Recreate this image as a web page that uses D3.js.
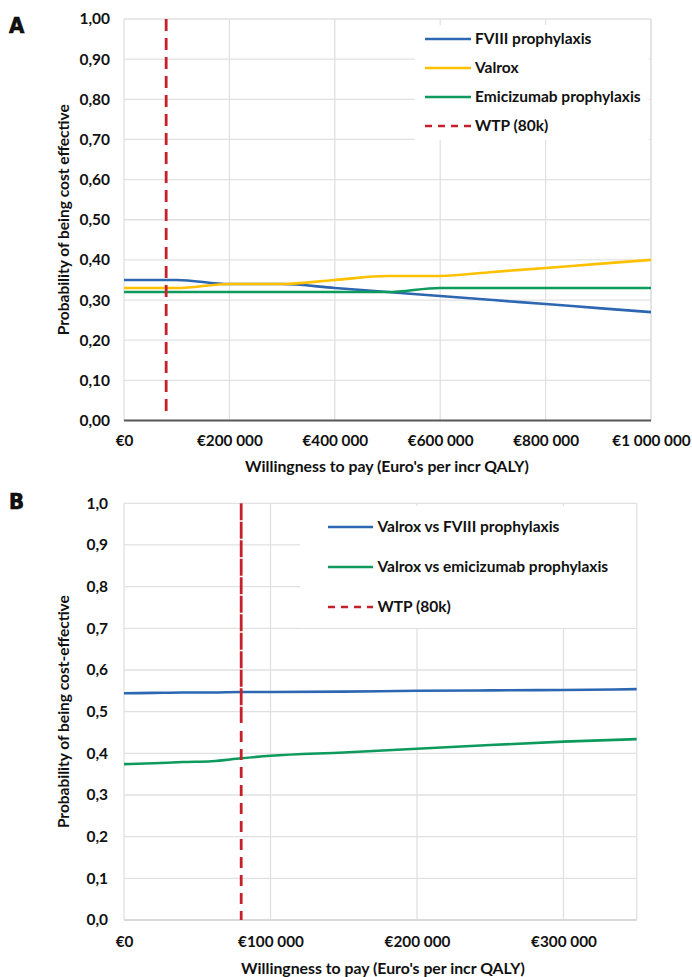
<!DOCTYPE html>
<html><head><meta charset="utf-8">
<script src="https://cdn.jsdelivr.net/npm/d3@7"></script>
<style>
html,body{margin:0;padding:0;background:#fff;}
svg{display:block;}
text{font-family:"Lato","Noto Sans",sans-serif;font-weight:700;fill:#111;}
</style></head>
<body><svg id="c" width="692" height="977"></svg>
<script>
// ---------- DATA ----------
// Panel A: cost-effectiveness acceptability curves
const wtpA = [0, 100000, 200000, 300000, 400000, 500000, 600000, 700000, 800000, 900000, 1000000];
const fviiiProphylaxis = [0.35, 0.35, 0.34, 0.34, 0.33, 0.32, 0.31, 0.30, 0.29, 0.28, 0.27];
const valrox = [0.33, 0.33, 0.34, 0.34, 0.35, 0.36, 0.36, 0.37, 0.38, 0.39, 0.40];
const emicizumabProphylaxis = [0.32, 0.32, 0.32, 0.32, 0.32, 0.32, 0.33, 0.33, 0.33, 0.33, 0.33];
const xTicksA = [0, 200000, 400000, 600000, 800000, 1000000];
const yTicksA = [0, 0.1, 0.2, 0.3, 0.4, 0.5, 0.6, 0.7, 0.8, 0.9, 1.0];
const legendA = ["FVIII prophylaxis", "Valrox", "Emicizumab prophylaxis", "WTP (80k)"];

// Panel B: pairwise comparisons
const wtpB = [0, 20000, 40000, 60000, 80000, 100000, 150000, 200000, 250000, 300000, 350000];
const valroxVsFviii = [0.544, 0.545, 0.546, 0.546, 0.547, 0.547, 0.548, 0.550, 0.551, 0.552, 0.554];
const valroxVsEmicizumab = [0.374, 0.376, 0.379, 0.381, 0.388, 0.394, 0.402, 0.411, 0.420, 0.428, 0.434];
const xTicksB = [0, 100000, 200000, 300000];
const yTicksB = [0, 0.1, 0.2, 0.3, 0.4, 0.5, 0.6, 0.7, 0.8, 0.9, 1.0];
const legendB = ["Valrox vs FVIII prophylaxis", "Valrox vs emicizumab prophylaxis", "WTP (80k)"];

const wtpThreshold = 80000;

// ---------- STYLE ----------
const BLUE = "#2e67b1", YELLOW = "#ffc000", GREEN = "#0c9b5c", RED = "#c6202a", GRID = "#e1e1e1";

const loc = d3.formatLocale({decimal: ",", thousands: " ", grouping: [3], currency: ["€", ""]});
const fmtEuro = loc.format("$,.0f");
const svg = d3.select("#c");

function panel(cfg) {
  const x = d3.scaleLinear().domain(cfg.xDomain).range([cfg.left, cfg.right]);
  const y = d3.scaleLinear().domain([0, 1]).range([cfg.bottom, cfg.top]);
  const g = svg.append("g");

  // gridlines
  g.append("g").selectAll("line").data(cfg.yTicks).join("line")
    .attr("x1", cfg.left).attr("x2", cfg.right)
    .attr("y1", d => y(d)).attr("y2", d => y(d))
    .attr("stroke", GRID).attr("stroke-width", 1.3);
  const vgrid = cfg.xTicks.concat([cfg.xDomain[1]]);
  g.append("g").selectAll("line").data(vgrid).join("line")
    .attr("x1", d => x(d)).attr("x2", d => x(d))
    .attr("y1", cfg.top).attr("y2", cfg.bottom)
    .attr("stroke", GRID).attr("stroke-width", 1.3);

  // bottom axis line
  g.append("line").attr("x1", cfg.left).attr("x2", cfg.right)
    .attr("y1", cfg.bottom).attr("y2", cfg.bottom)
    .attr("stroke", cfg.axisColor).attr("stroke-width", cfg.axisWidth);

  // y tick labels
  const yAxis = d3.axisLeft(y).tickValues(cfg.yTicks).tickSize(0).tickPadding(0)
    .tickFormat(d => d3.format(cfg.yFmt)(d).replace(".", ","));
  const ya = g.append("g").attr("transform", `translate(${cfg.yLabelX},0)`).call(yAxis);
  ya.select(".domain").remove();
  ya.selectAll("text").attr("font-size", 15.5).attr("fill", "#111")
    .style("font-family", "Lato, 'Noto Sans', sans-serif").style("font-weight", 700);

  // x tick labels
  const xAxis = d3.axisBottom(x).tickValues(cfg.xTicks).tickSize(0).tickPadding(0).tickFormat(fmtEuro);
  const xa = g.append("g").attr("transform", `translate(0,${cfg.xLabelY})`).call(xAxis);
  xa.select(".domain").remove();
  xa.selectAll("text").attr("font-size", 15.3).attr("fill", "#111").attr("dy", "0.35em")
    .style("font-family", "Lato, 'Noto Sans', sans-serif").style("font-weight", 700);

  // axis titles
  g.append("text").attr("x", cfg.xTitleX).attr("y", cfg.xTitleY)
    .attr("text-anchor", "middle").attr("font-size", 15.8).text("Willingness to pay (Euro's per incr QALY)");
  g.append("text").attr("transform", `translate(${cfg.yTitleX},${(cfg.top + cfg.bottom) / 2}) rotate(-90)`)
    .attr("text-anchor", "middle").attr("font-size", 15.5).text(cfg.yTitle);

  // panel letter
  g.append("text").attr("x", 9).attr("y", cfg.letterY).attr("font-size", 22)
    .style("font-family", "'Liberation Sans Narrow','DejaVu Sans Condensed',sans-serif")
    .style("font-weight", 700).attr("fill", "#000").attr("stroke", "#000").attr("stroke-width", 0.6)
    .text(cfg.letter);

  // legend box
  g.append("rect").attr("x", cfg.leg.x0).attr("y", cfg.leg.y0)
    .attr("width", cfg.leg.x1 - cfg.leg.x0).attr("height", cfg.leg.y1 - cfg.leg.y0).attr("fill", "#fff");

  // series
  const line = d3.line().x(d => x(d[0])).y(d => y(d[1])).curve(d3.curveMonotoneX);
  cfg.series.forEach(s => {
    g.append("path").datum(cfg.xs.map((v, i) => [v, s.values[i]]))
      .attr("d", line).attr("fill", "none").attr("stroke", s.color).attr("stroke-width", 2.6);
  });

  // WTP line
  cfg.wtpSegments.forEach(seg => {
    g.append("line").attr("x1", x(wtpThreshold)).attr("x2", x(wtpThreshold))
      .attr("y1", seg.y1).attr("y2", seg.y2)
      .attr("stroke", RED).attr("stroke-width", 2.8).attr("stroke-dasharray", seg.dash);
  });

  // legend entries
  const items = cfg.series.map(s => ({name: s.name, color: s.color, dash: null}))
    .concat([{name: cfg.wtpName, color: RED, dash: "7,6"}]);
  items.forEach((it, i) => {
    const yy = cfg.leg.firstY + i * cfg.leg.step;
    g.append("line").attr("x1", cfg.leg.lx0).attr("x2", cfg.leg.lx1).attr("y1", yy).attr("y2", yy)
      .attr("stroke", it.color).attr("stroke-width", 2.6).attr("stroke-dasharray", it.dash);
    g.append("text").attr("x", cfg.leg.tx).attr("y", yy).attr("dy", "0.35em")
      .attr("font-size", 15.5).text(it.name);
  });
}

panel({
  letter: "A", letterY: 33,
  left: 124, right: 651, top: 19, bottom: 420.5,
  xDomain: [0, 1000000], xTicks: xTicksA, yTicks: yTicksA, yFmt: ".2f",
  xs: wtpA,
  series: [
    {name: legendA[0], values: fviiiProphylaxis, color: BLUE},
    {name: legendA[1], values: valrox, color: YELLOW},
    {name: legendA[2], values: emicizumabProphylaxis, color: GREEN}
  ],
  wtpName: legendA[3],
  wtpSegments: [{y1: 19, y2: 414, dash: "12,7"}],
  yLabelX: 110, xLabelY: 441, xTitleX: 387, xTitleY: 472, yTitleX: 69,
  yTitle: "Probability of being cost effective",
  axisColor: "#595959", axisWidth: 2.2,
  leg: {x0: 415, x1: 649, y0: 25, y1: 140, lx0: 425, lx1: 471, tx: 475, firstY: 39, step: 29}
});

panel({
  letter: "B", letterY: 509,
  left: 124, right: 636.7, top: 503.3, bottom: 920,
  xDomain: [0, 350000], xTicks: xTicksB, yTicks: yTicksB, yFmt: ".1f",
  xs: wtpB,
  series: [
    {name: legendB[0], values: valroxVsFviii, color: BLUE},
    {name: legendB[1], values: valroxVsEmicizumab, color: GREEN}
  ],
  wtpName: legendB[2],
  wtpSegments: [{y1: 503.3, y2: 723, dash: "17,1.5"}, {y1: 731, y2: 920, dash: "11,7"}],
  yLabelX: 108, xLabelY: 942, xTitleX: 383, xTitleY: 974, yTitleX: 69,
  yTitle: "Probability of being cost-effective",
  axisColor: "#d4d4d4", axisWidth: 1.6,
  leg: {x0: 300, x1: 636, y0: 506, y1: 628, lx0: 328, lx1: 373, tx: 377.5, firstY: 527, step: 40}
});
</script></body></html>
